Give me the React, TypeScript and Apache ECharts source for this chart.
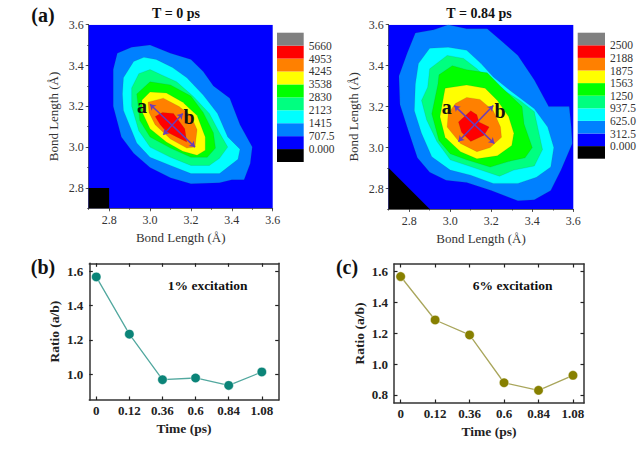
import React, { useEffect, useRef } from "react";
import * as echarts from "echarts";

const FONT = "'Liberation Serif', 'Times New Roman', serif";
const levelColors = ["#000000", "#0000ff", "#0080ff", "#00ffff", "#00ff80", "#00ff00", "#ffff00", "#ff8000", "#ff0000", "#808080"];
const legendLabelsLeft = ["0.000", "707.5", "1415", "2123", "2830", "3538", "4245", "4953", "5660"];
const legendLabelsRight = ["0.000", "312.5", "625.0", "937.5", "1250", "1563", "1875", "2188", "2500"];
const heatTicks = [2.8, 3.0, 3.2, 3.4, 3.6];
const timeLabels = ["0", "0.12", "0.36", "0.6", "0.84", "1.08"];
const ratio1 = [1.567, 1.234, 0.969, 0.979, 0.936, 1.014];
const ratio6 = [1.566, 1.285, 1.188, 0.879, 0.83, 0.927];
const ratio1Ticks = [1.0, 1.2, 1.4, 1.6];
const ratio6Ticks = [0.8, 1.0, 1.2, 1.4, 1.6];

const fullSquare = [[2.7, 2.7], [3.6, 2.7], [3.6, 3.6], [2.7, 3.6]];
const leftCorner = [[2.7, 2.7], [2.8, 2.7], [2.8, 2.8], [2.7, 2.8]];
const rightCorner = [[2.7, 2.7], [2.9, 2.7], [2.7, 2.9]];

const leftRings = [
  [[2.84,3.46],[2.91,3.49],[3.0,3.5],[3.1,3.46],[3.2,3.43],[3.26,3.37],[3.31,3.3],[3.39,3.24],[3.44,3.11],[3.5,3.0],[3.49,2.92],[3.46,2.84],[3.4,2.84],[3.34,2.825],[3.2,2.82],[3.1,2.85],[3.0,2.9],[2.92,2.97],[2.86,3.05],[2.82,3.2],[2.82,3.38]],
  [[2.87,3.34],[2.92,3.42],[2.97,3.44],[3.03,3.43],[3.11,3.39],[3.18,3.34],[3.26,3.255],[3.33,3.165],[3.38,3.05],[3.44,2.99],[3.43,2.94],[3.34,2.87],[3.2,2.87],[3.1,2.91],[3.0,2.95],[2.935,3.02],[2.87,3.18],[2.865,3.26]],
  [[2.91,3.29],[2.945,3.36],[3.0,3.38],[3.065,3.35],[3.13,3.32],[3.21,3.25],[3.29,3.165],[3.34,3.07],[3.38,3.0],[3.34,2.945],[3.29,2.91],[3.2,2.91],[3.1,2.95],[3.0,3.0],[2.945,3.08],[2.91,3.2]],
  [[2.935,3.26],[3.0,3.32],[3.1,3.305],[3.2,3.25],[3.26,3.17],[3.31,3.07],[3.32,2.995],[3.28,2.95],[3.2,2.95],[3.1,2.995],[3.0,3.05],[2.95,3.13]],
  [[2.96,3.23],[3.0,3.27],[3.08,3.265],[3.16,3.22],[3.23,3.155],[3.27,3.05],[3.27,2.985],[3.23,2.96],[3.16,2.98],[3.08,3.025],[3.0,3.09],[2.965,3.165]],
  [[2.99,3.22],[3.065,3.24],[3.14,3.2],[3.2,3.155],[3.23,3.085],[3.22,3.0],[3.18,2.995],[3.1,3.04],[3.025,3.11],[2.995,3.17]],
  [[3.025,3.15],[3.06,3.17],[3.115,3.165],[3.17,3.09],[3.18,3.025],[3.13,3.05],[3.08,3.075],[3.05,3.11]],
];
const rightRings = [
  [[2.83,3.56],[2.92,3.575],[2.99,3.6],[3.08,3.58],[3.18,3.58],[3.25,3.52],[3.33,3.45],[3.41,3.33],[3.48,3.2],[3.58,3.2],[3.59,3.1],[3.595,3.02],[3.54,2.89],[3.49,2.79],[3.41,2.745],[3.33,2.74],[3.2,2.79],[3.08,2.83],[2.98,2.84],[2.9,2.88],[2.84,2.95],[2.79,3.1],[2.755,3.21],[2.75,3.35],[2.79,3.46]],
  [[2.845,3.41],[2.9,3.485],[2.99,3.49],[3.08,3.475],[3.15,3.41],[3.21,3.345],[3.29,3.28],[3.41,3.19],[3.475,3.1],[3.505,3.0],[3.49,2.905],[3.42,2.855],[3.33,2.825],[3.21,2.825],[3.1,2.865],[3.0,2.89],[2.91,2.955],[2.86,3.07],[2.825,3.18],[2.83,3.31]],
  [[2.86,3.23],[2.89,3.295],[2.9,3.385],[2.985,3.45],[3.065,3.435],[3.13,3.385],[3.21,3.31],[3.34,3.23],[3.41,3.175],[3.45,2.99],[3.41,2.91],[3.31,2.89],[3.24,2.86],[3.15,2.89],[3.0,2.94],[2.935,3.03],[2.885,3.135]],
  [[2.94,3.31],[2.945,3.355],[3.01,3.4],[3.08,3.38],[3.18,3.365],[3.245,3.3],[3.35,3.2],[3.36,3.115],[3.4,3.0],[3.365,2.95],[3.295,2.935],[3.195,2.905],[3.08,2.94],[3.0,2.97],[2.945,3.035],[2.91,3.165]],
  [[2.975,3.29],[3.08,3.305],[3.17,3.29],[3.23,3.23],[3.285,3.15],[3.31,3.07],[3.3,3.01],[3.23,2.96],[3.13,2.945],[3.05,2.98],[2.975,3.05],[2.95,3.15]],
  [[3.025,3.215],[3.08,3.245],[3.145,3.235],[3.21,3.18],[3.245,3.1],[3.25,3.05],[3.195,3.0],[3.13,2.98],[3.05,3.02],[2.985,3.1],[2.99,3.165]],
  [[3.04,3.125],[3.1,3.18],[3.13,3.16],[3.14,3.125],[3.19,3.1],[3.165,3.06],[3.1,3.03],[3.055,3.075]],
];
const leftArrows = [[[3.0, 3.21], [3.22, 3.0]], [[3.065, 3.06], [3.16, 3.165]]];
const rightArrows = [[[3.02, 3.205], [3.215, 3.02]], [[3.04, 3.03], [3.21, 3.205]]];

const AXIS = "#333333";

function polygon(points: number[][], fill: string, axisIndex: number, stroke = "none") {
  return {
    type: "custom",
    xAxisIndex: axisIndex,
    yAxisIndex: axisIndex,
    data: points,
    silent: true,
    clip: true,
    renderItem: (params: any, api: any) => {
      if (params.dataIndex !== 0) return null;
      return {
        type: "polygon",
        shape: { points: points.map((p) => api.coord(p)) },
        style: { fill, stroke, lineWidth: 0.5 },
      };
    },
  };
}

function arrowSeries(arrows: number[][][], axisIndex: number) {
  return {
    type: "line",
    xAxisIndex: axisIndex,
    yAxisIndex: axisIndex,
    data: [],
    markLine: {
      silent: true,
      animation: false,
      symbol: ["arrow", "arrow"],
      symbolSize: 5.5,
      label: { show: false },
      lineStyle: { color: "#6a3db8", width: 1.5, type: "solid" },
      data: arrows.map((a) => [{ coord: a[0] }, { coord: a[1] }]),
    },
  };
}

function heatAxes(gridIndex: number, horizontal: boolean) {
  const style = { color: AXIS, width: 0.8 };
  return {
    type: "value", gridIndex, min: 2.7, max: 3.6,
    name: "Bond Length (Å)", nameLocation: "middle",
    nameGap: horizontal ? 23 : 29,
    nameTextStyle: { fontFamily: FONT, fontSize: 13, color: AXIS },
    position: horizontal ? "bottom" : "left",
    axisLine: { show: true, onZero: false, lineStyle: style },
    axisTick: { show: true, length: 3, lineStyle: style, customValues: heatTicks },
    axisLabel: { fontFamily: FONT, fontSize: 12, color: AXIS, margin: horizontal ? 6 : 5, customValues: heatTicks, formatter: (v: number) => v.toFixed(1) },
    splitLine: { show: false },
  };
}

function minorAxis(gridIndex: number, horizontal: boolean) {
  return {
    type: "value", gridIndex, min: 2.7, max: 3.6, interval: 0.1,
    position: horizontal ? "bottom" : "left",
    axisLine: { show: false, onZero: false },
    axisTick: { show: true, length: 1.5, lineStyle: { color: AXIS, width: 0.8 } },
    axisLabel: { show: false },
    splitLine: { show: false },
  };
}

function legendAxes(gridIndex: number, labels: string[]) {
  return {
    x: { type: "category", gridIndex, data: ["level"], show: false },
    y: {
      type: "value", gridIndex, min: 0, max: 10, interval: 1, position: "right",
      axisLine: { show: false }, axisTick: { show: false }, splitLine: { show: false },
      axisLabel: {
        fontFamily: FONT, fontSize: 11.5, color: AXIS, margin: 5,
        formatter: (v: number) => labels[v - 1] ?? "",
      },
    },
  };
}

function legendBars(axisIndex: number, stack: string) {
  return levelColors.map((c) => ({
    type: "bar", stack, xAxisIndex: axisIndex, yAxisIndex: axisIndex,
    barWidth: "100%", silent: true, data: [1], itemStyle: { color: c },
  }));
}

const ticksIdx = [0, 1, 2, 3, 4, 5];

function ratioAxes(gridIndex: number, xMin: number, xMax: number, yMin: number, yMax: number, yTicks: number[]) {
  const tick = { color: "#222222", width: 1.2 };
  const tickBase = { show: true, inside: true, length: 3.5, lineStyle: tick };
  const labelStyle = { fontFamily: FONT, fontSize: 13, fontWeight: "bold", color: "#222222" };
  const nameStyle = { fontFamily: FONT, fontSize: 13.5, fontWeight: "bold", color: "#222222" };
  const line = { show: true, onZero: false, lineStyle: { color: "#333333", width: 1.5 } };
  return {
    xs: [
      {
        type: "value", gridIndex, min: xMin, max: xMax, position: "bottom",
        name: "Time (ps)", nameLocation: "middle", nameGap: 21, nameTextStyle: nameStyle,
        axisLine: line, axisTick: { ...tickBase, customValues: ticksIdx }, splitLine: { show: false },
        axisLabel: { ...labelStyle, margin: 4, customValues: ticksIdx, formatter: (v: number) => timeLabels[v] ?? "" },
      },
      {
        type: "value", gridIndex, min: xMin, max: xMax, position: "top",
        axisLine: line, axisTick: { ...tickBase, customValues: ticksIdx }, axisLabel: { show: false }, splitLine: { show: false },
      },
    ],
    ys: [
      {
        type: "value", gridIndex, min: yMin, max: yMax, position: "left",
        name: "Ratio (a/b)", nameLocation: "middle", nameGap: 28, nameTextStyle: nameStyle,
        axisLine: line, axisTick: { ...tickBase, customValues: yTicks }, splitLine: { show: false },
        axisLabel: { ...labelStyle, margin: 6, customValues: yTicks, formatter: (v: number) => v.toFixed(1) },
      },
      {
        type: "value", gridIndex, min: yMin, max: yMax, position: "right",
        axisLine: line, axisTick: { ...tickBase, customValues: yTicks }, axisLabel: { show: false }, splitLine: { show: false },
      },
    ],
  };
}

function txt(text: string, x: number, y: number, fontSize: number, bold = true) {
  return {
    type: "text", x, y, silent: true, z: 200, zlevel: 0,
    style: { text, font: `${bold ? "bold " : ""}${fontSize}px ${FONT}`, fill: "#111111", textAlign: "center", textVerticalAlign: "middle", verticalAlign: "middle" },
  };
}

export default function App() {
  const ref = useRef<HTMLDivElement>(null);
  useEffect(() => {
    document.body.style.margin = "0";
    const chart = echarts.init(ref.current!, undefined, { renderer: "svg" });

    const legL = legendAxes(2, legendLabelsLeft);
    const legR = legendAxes(3, legendLabelsRight);
    const b = ratioAxes(4, -0.21, 5.51, 0.851, 1.646, ratio1Ticks);
    const c = ratioAxes(5, -0.193, 5.32, 0.748, 1.647, ratio6Ticks);

    const xAxis: any[] = [heatAxes(0, true), heatAxes(1, true), legL.x, legR.x, b.xs[0], c.xs[0], b.xs[1], c.xs[1], minorAxis(0, true), minorAxis(1, true)];
    const yAxis: any[] = [heatAxes(0, false), heatAxes(1, false), legL.y, legR.y, b.ys[0], c.ys[0], b.ys[1], c.ys[1], minorAxis(0, false), minorAxis(1, false)];

    const ratioSeries = (data: number[], idx: number, dot: string, line: string) => ({
      type: "line", xAxisIndex: idx, yAxisIndex: idx, silent: true,
      data: data.map((v, i) => [i, v]),
      symbol: "circle", symbolSize: 9.5,
      itemStyle: { color: dot, borderColor: "#ffffff", borderWidth: 0.5 },
      lineStyle: { color: line, width: 1.3 },
    });

    const series: any[] = [
      polygon(fullSquare, levelColors[1], 0),
      ...leftRings.map((r, i) => polygon(r, levelColors[i + 2], 0, "rgba(60,60,60,0.25)")),
      polygon(leftCorner, levelColors[0], 0),
      arrowSeries(leftArrows, 0),
      polygon(fullSquare, levelColors[1], 1),
      ...rightRings.map((r, i) => polygon(r, levelColors[i + 2], 1, "rgba(60,60,60,0.25)")),
      polygon(rightCorner, levelColors[0], 1),
      arrowSeries(rightArrows, 1),
      ...legendBars(2, "legendLeft"),
      ...legendBars(3, "legendRight"),
      ratioSeries(ratio1, 4, "#0b8478", "#52a89f"),
      ratioSeries(ratio6, 5, "#878000", "#a9a65c"),
    ];

    chart.setOption({
      animation: false,
      backgroundColor: "#ffffff",
      grid: [
        { left: 88.7, top: 24.7, width: 184, height: 183.6 },
        { left: 388.7, top: 24.7, width: 184.6, height: 184.3 },
        { left: 277, top: 32.7, width: 26.7, height: 129.3 },
        { left: 577.7, top: 32.7, width: 27.3, height: 126 },
        { left: 89.3, top: 263.3, width: 189.4, height: 136.7 },
        { left: 394, top: 264, width: 190, height: 139 },
      ],
      xAxis,
      yAxis,
      series,
      graphic: {
        elements: [
          txt("(a)", 43, 15, 20),
          txt("T = 0 ps", 176, 13, 14),
          txt("T = 0.84 ps", 479, 13, 14),
          txt("a", 142, 106, 20),
          txt("b", 189, 117, 20),
          txt("a", 446.7, 106.7, 20),
          txt("b", 500, 110.7, 20),
          txt("(b)", 43, 267, 20),
          txt("(c)", 347, 267, 20),
          txt("1% excitation", 207.7, 285.7, 13.5),
          txt("6% excitation", 512.7, 285, 13.5),
        ],
      },
    });
    return () => chart.dispose();
  }, []);
  return <div ref={ref} style={{ position: "fixed", left: 0, top: 0, width: 641, height: 455 }} />;
}
